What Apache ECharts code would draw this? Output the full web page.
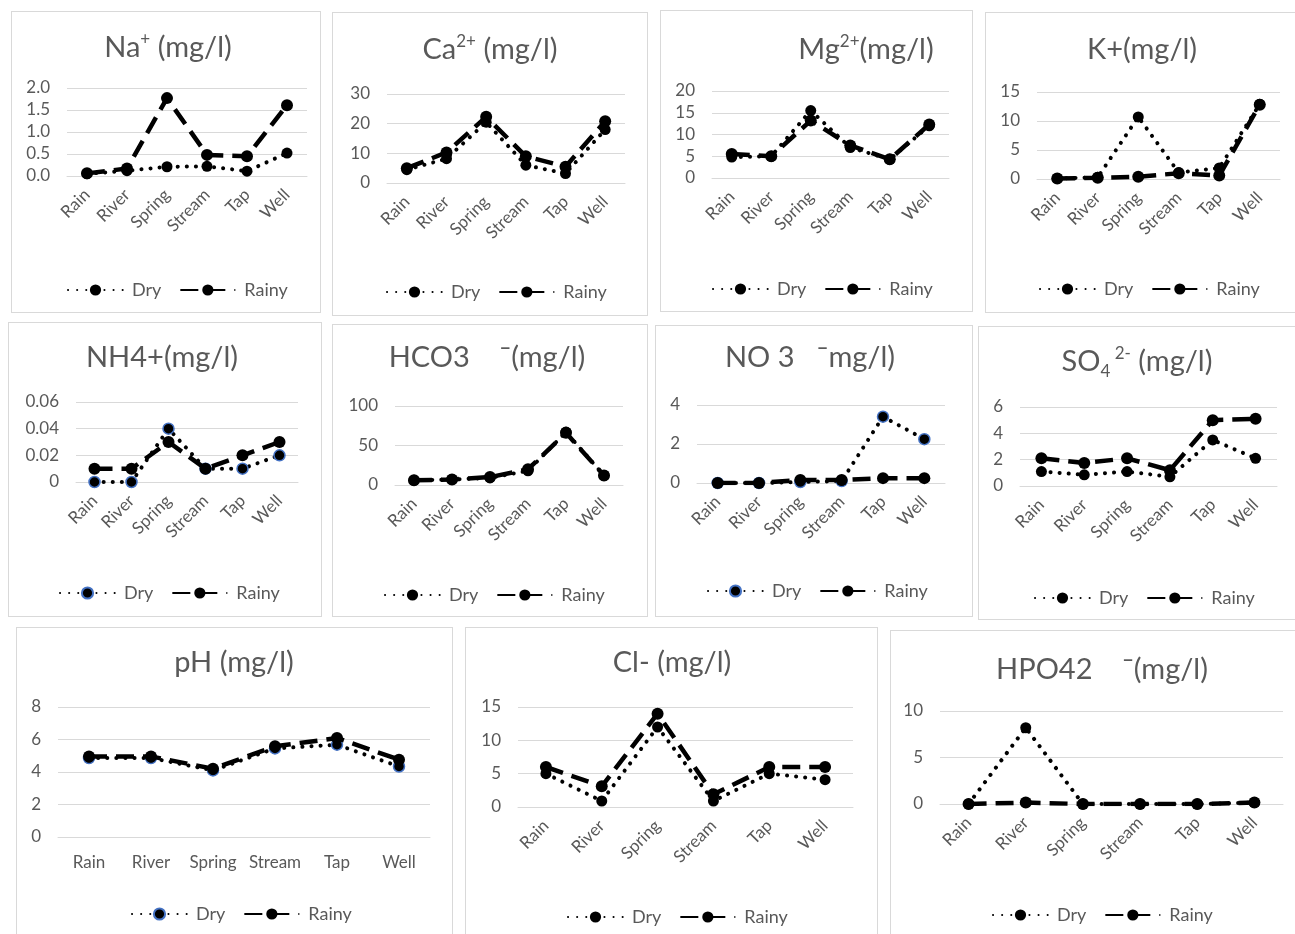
<!DOCTYPE html>
<html>
<head>
<meta charset="utf-8">
<script src="https://cdn.jsdelivr.net/npm/echarts@6/dist/echarts.min.js"></script>
<style>
  body { margin: 0; width: 1295px; height: 934px; background: #fff; position: relative; overflow: hidden; }
  .panel { position: absolute; border: 1px solid #d9d9d9; box-sizing: border-box; background: #fff; }
</style>
</head>
<body>
<script>
// sampling sites
const categories = ['Rain', 'River', 'Spring', 'Stream', 'Tap', 'Well'];

// values (mg/l)
const naDry = [0.05, 0.12, 0.21, 0.22, 0.11, 0.52];
const naRainy = [0.06, 0.17, 1.77, 0.48, 0.45, 1.61];
const caDry = [4.5, 8.2, 20.5, 6, 3.2, 18];
const caRainy = [5, 10.3, 22.3, 9, 5.5, 20.8];
const mgDry = [4.8, 5, 15.5, 7, 4.3, 12];
const mgRainy = [5.5, 5, 13.2, 7.5, 4.3, 12.3];
const kDry = [0.1, 0.3, 10.7, 1.1, 1.9, 12.9];
const kRainy = [0.1, 0.2, 0.4, 1.0, 0.6, 12.8];
const nh4Dry = [0, 0, 0.04, 0.01, 0.01, 0.02];
const nh4Rainy = [0.01, 0.01, 0.03, 0.01, 0.02, 0.03];
const hco3Dry = [6, 7, 9, 18, 67, 12];
const hco3Rainy = [6, 7, 10, 20, 66, 12];
const no3Dry = [0, 0, 0.05, 0.1, 3.4, 2.25];
const no3Rainy = [0, 0, 0.15, 0.15, 0.25, 0.25];
const so4Dry = [1.1, 0.85, 1.1, 0.7, 3.5, 2.1];
const so4Rainy = [2.1, 1.75, 2.1, 1.2, 5.0, 5.1];
const phDry = [4.86, 4.86, 4.1, 5.45, 5.68, 4.34];
const phRainy = [4.96, 4.96, 4.2, 5.58, 6.09, 4.76];
const clDry = [5, 0.9, 12, 0.9, 5, 4.1];
const clRainy = [6, 3.1, 14, 1.9, 6, 6];
const hpoDry = [0, 8.2, 0, 0, 0, 0.15];
const hpoRainy = [0, 0.15, 0, 0, 0, 0.15];

const FONT = 'Lato';
const GREY = '#595959';

// box: [x, y, w, h]; grid: [left, top, width, height]; title/legend: centre points inside the box
const panels = [
  { box: [11, 11, 310, 302], grid: [56, 77, 240, 88], title: '{t|Na}{sup|+}{t| (mg/l)}', titleAt: [157, 37], legendAt: [164, 272], max: 2, step: 0.5, dec: 1, dry: naDry, rainy: naRainy },
  { box: [332, 12, 316, 304], grid: [55, 82, 238, 89], title: '{t|Ca}{sup|2+}{t| (mg/l)}', titleAt: [158, 38], legendAt: [162, 273], max: 30, step: 10, dry: caDry, rainy: caRainy },
  { box: [660, 10, 313, 302], grid: [52, 81, 237, 87], title: '{t|Mg}{sup|2+}{t|(mg/l)}', titleAt: [206, 40], legendAt: [160, 272], max: 20, step: 5, dry: mgDry, rainy: mgRainy },
  { box: [985, 12, 312, 301], grid: [52, 80, 243, 87], title: '{t|K+(mg/l)}', titleAt: [157, 38], legendAt: [162, 270], max: 15, step: 5, dry: kDry, rainy: kRainy },
  { box: [8, 322, 314, 295], grid: [68, 80, 222, 80], title: '{t|NH4+(mg/l)}', titleAt: [154, 36], legendAt: [159, 264], max: 0.06, step: 0.02, blue: true, dry: nh4Dry, rainy: nh4Rainy },
  { box: [332, 324, 316, 293], grid: [63, 82, 228, 79], title: '{t|HCO3    ¯(mg/l)}', titleAt: [155, 34], legendAt: [160, 264], max: 100, step: 50, dry: hco3Dry, rainy: hco3Rainy },
  { box: [655, 325, 318, 292], grid: [42, 80, 248, 78], title: '{t|NO 3   ¯mg/l)}', titleAt: [155, 33], legendAt: [160, 259], max: 4, step: 2, blue: true, dry: no3Dry, rainy: no3Rainy },
  { box: [978, 326, 319, 294], grid: [42, 81, 257, 79], title: '{t|SO}{sub|4}{sup| 2-}{t| (mg/l)}', titleAt: [159, 36], legendAt: [164, 265], max: 6, step: 2, dry: so4Dry, rainy: so4Rainy },
  { box: [16, 627, 437, 320], grid: [42, 80, 372, 130], title: '{t|pH (mg/l)}', titleAt: [218, 36], legendAt: [223, 280], max: 8, step: 2, flat: true, blue: true, dry: phDry, rainy: phRainy },
  { box: [465, 627, 413, 320], grid: [53, 80, 335, 100], title: '{t|Cl- (mg/l)}', titleAt: [207, 36], legendAt: [210, 283], max: 15, step: 5, dry: clDry, rainy: clRainy },
  { box: [890, 630, 420, 320], grid: [50, 81, 343, 93], title: '{t|HPO42    ¯(mg/l)}', titleAt: [212, 40], legendAt: [210, 278], max: 10, step: 5, dry: hpoDry, rainy: hpoRainy }
];

panels.forEach(function (p) {
  var div = document.createElement('div');
  div.className = 'panel';
  div.style.left = p.box[0] + 'px';
  div.style.top = p.box[1] + 'px';
  div.style.width = p.box[2] + 'px';
  div.style.height = p.box[3] + 'px';
  document.body.appendChild(div);

  var chart = echarts.init(div, null, { renderer: 'canvas' });
  var option = {
    animation: false,
    graphic: [{
      type: 'text',
      x: p.titleAt[0] - 1,
      y: p.titleAt[1] - 1,
      style: {
        text: p.title,
        align: 'center', textAlign: 'center',
        verticalAlign: 'middle', textVerticalAlign: 'middle',
        rich: {
          t: { fontSize: 29, fontFamily: FONT, fill: GREY, color: GREY, lineHeight: 36, verticalAlign: 'middle' },
          sup: { fontSize: 17, fontFamily: FONT, fill: GREY, color: GREY, lineHeight: 36, verticalAlign: 'top', padding: [1, 0, 0, 0] },
          sub: { fontSize: 17, fontFamily: FONT, fill: GREY, color: GREY, lineHeight: 36, verticalAlign: 'bottom' }
        }
      }
    }],
    grid: { left: p.grid[0] - 1, top: p.grid[1] - 1, width: p.grid[2], height: p.grid[3], containLabel: false },
    legend: {
      data: ['Dry', 'Rainy'],
      left: p.legendAt[0] - 114,
      top: p.legendAt[1] - 8,
      itemWidth: 55,
      itemHeight: 14,
      itemGap: 18,
      textStyle: { fontFamily: FONT, fontSize: 18, color: GREY, padding: [0, 0, 0, 4] }
    },
    xAxis: {
      type: 'category',
      data: categories,
      boundaryGap: true,
      axisLine: { lineStyle: { color: '#d9d9d9', width: 1 } },
      axisTick: { show: false },
      axisLabel: {
        interval: 0,
        rotate: p.flat ? 0 : 45,
        margin: p.flat ? 17 : 16,
        fontFamily: FONT, fontSize: 17, color: GREY
      }
    },
    yAxis: {
      type: 'value',
      min: 0, max: p.max, interval: p.step,
      axisLine: { show: false },
      axisTick: { show: false },
      splitLine: { lineStyle: { color: '#d9d9d9', width: 1 } },
      axisLabel: {
        margin: 17,
        fontFamily: FONT, fontSize: 17, color: GREY,
        formatter: function (v) { return p.dec ? v.toFixed(p.dec) : String(+v.toFixed(4)); }
      }
    },
    series: [
      {
        name: 'Dry', type: 'line', data: p.dry,
        symbol: 'circle', symbolSize: 11, showSymbol: true, z: 2,
        lineStyle: { color: '#000', width: 4, type: [0.1, 9], cap: 'round' },
        itemStyle: { color: '#000', borderColor: p.blue ? '#4472c4' : '#000', borderWidth: p.blue ? 1.5 : 0 }
      },
      {
        name: 'Rainy', type: 'line', data: p.rainy,
        symbol: 'circle', symbolSize: 12, showSymbol: true, z: 3,
        lineStyle: { color: '#000', width: 4.5, type: [18, 9], cap: 'butt' },
        itemStyle: { color: '#000' }
      }
    ]
  };
  chart.setOption(option);
});
</script>
</body>
</html>
